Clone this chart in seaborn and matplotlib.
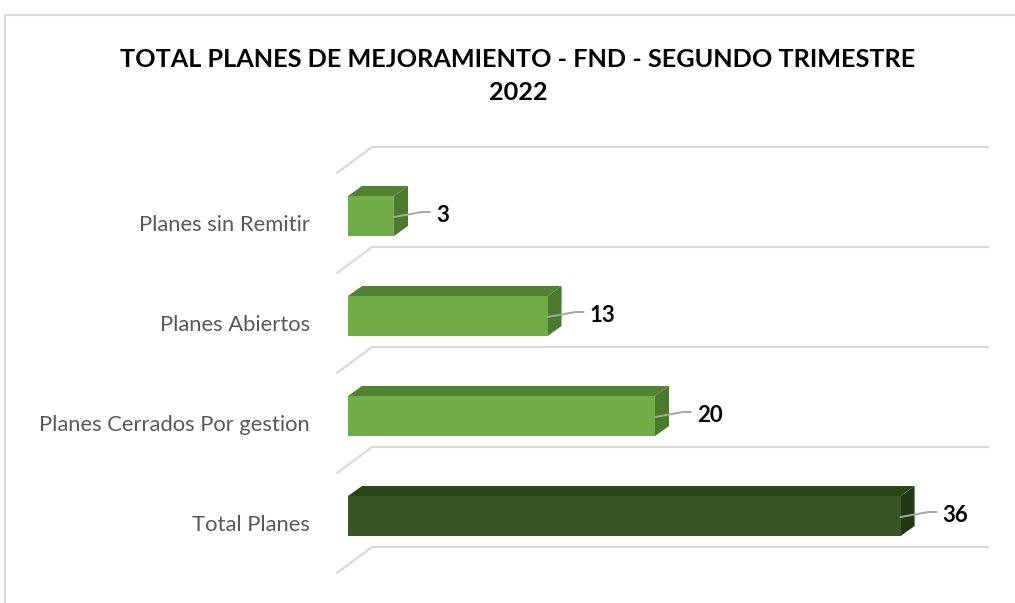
import matplotlib
matplotlib.use("Agg")
import matplotlib.pyplot as plt
import seaborn as sns
import numpy as np
from matplotlib.patches import Polygon, Rectangle
from matplotlib.lines import Line2D

# ---------------------------------------------------------------------------
# Data
# ---------------------------------------------------------------------------
categories = ["Planes sin Remitir", "Planes Abiertos", "Planes Cerrados Por gestion", "Total Planes"]
values = [3, 13, 20, 36]
title = "TOTAL PLANES DE MEJORAMIENTO - FND - SEGUNDO TRIMESTRE\n2022"

front_colors = ["#70AD47", "#70AD47", "#70AD47", "#375623"]
top_colors = ["#548235", "#548235", "#548235", "#2B461B"]
side_colors = ["#4A7A2C", "#4A7A2C", "#4A7A2C", "#223915"]

# ---------------------------------------------------------------------------
# Layout (pixels)
# ---------------------------------------------------------------------------
W, H, DPI = 1015, 603, 100
X0_PX, X1_PX = 348, 988          # value 0 / right end of the plot area
PX_PER_UNIT = 15.35
TOP_PX, BOT_PX = 147, 547        # first / last gridline
DEPTH = (14, 10)                 # 3D offset of the bars, pixels
FONT = ["Lato", "DejaVu Sans"]

sns.set_theme(style="white")
plt.rcParams["font.family"] = FONT

fig = plt.figure(figsize=(W / DPI, H / DPI), dpi=DPI)
ax = fig.add_axes([X0_PX / W, 1 - BOT_PX / H, (X1_PX - X0_PX) / W, (BOT_PX - TOP_PX) / H])

sns.barplot(x=values, y=categories, hue=categories, palette=front_colors,
            orient="h", width=0.4, legend=False, ax=ax, saturation=1, zorder=3,
            linewidth=0)

ax.set_xlim(0, (X1_PX - X0_PX) / PX_PER_UNIT)
ax.set_ylim(3.31, -0.69)
ax.set_xticks([])
ax.set_yticks([])
ax.set_xlabel("")
ax.set_ylabel("")
for s in ax.spines.values():
    s.set_visible(False)

fig.canvas.draw()
to_data = ax.transData.inverted()


def px_to_data(px, py):
    # px, py measured from top-left of the image
    return to_data.transform((px, H - py))


# gridlines with the perspective floor edge on the left
grid_c = "#D9D9D9"
for k in range(5):
    gy = TOP_PX + 100 * k
    a = px_to_data(372, gy)
    b = px_to_data(X1_PX, gy)
    c = px_to_data(337, gy + 26)
    ax.add_line(Line2D([c[0], a[0], b[0]], [c[1], a[1], b[1]], color=grid_c,
                       lw=1.6, clip_on=False, zorder=1))

# 3D faces of the bars
for i, p in enumerate(ax.patches):
    x0, x1 = p.get_x(), p.get_x() + p.get_width()
    ya, yb = p.get_y(), p.get_y() + p.get_height()
    ytop, ybot = min(ya, yb), max(ya, yb)
    disp = ax.transData.transform([(x0, ytop), (x1, ytop), (x1, ybot)])
    dx, dy = DEPTH
    ftl, ftr, fbr = disp
    top = [ftl, ftr, ftr + (dx, dy), ftl + (dx, dy)]
    side = [ftr, fbr, fbr + (dx, dy), ftr + (dx, dy)]
    ax.add_patch(Polygon(to_data.transform(top), closed=True, fc=top_colors[i],
                         ec="none", zorder=2, clip_on=False))
    ax.add_patch(Polygon(to_data.transform(side), closed=True, fc=side_colors[i],
                         ec="none", zorder=2, clip_on=False))

    # value label with leader line
    yc = (ytop + ybot) / 2
    cd = ax.transData.transform((x1, yc))
    pts = [cd + (0, -1), cd + (28, 4), cd + (36, 4)]
    pts = to_data.transform(pts)
    ax.add_line(Line2D(pts[:, 0], pts[:, 1], color="#A6A6A6", lw=1.4,
                       clip_on=False, zorder=4))
    tx = to_data.transform(cd + (42, 1))
    ax.text(tx[0], tx[1], str(values[i]), fontsize=16, fontweight="bold",
            color="black", ha="left", va="center", zorder=5)

# category labels
for i, cat in enumerate(categories):
    lx, ly = px_to_data(310, 216 + 100 * i + 9)
    ax.text(lx, ly, cat, fontsize=15.8, color="#595959", ha="right",
            va="center", clip_on=False)

# title
fig.text(518 / W, 1 - 76 / H, title, ha="center", va="center", fontsize=18.2,
         fontweight="bold", color="black", linespacing=1.52)

# chart frame
fig.patches.append(Rectangle((5 / W, -0.2), 1.2, 1.2 - 15 / H, transform=fig.transFigure,
                             fill=False, ec="#D9D9D9", lw=1.5, zorder=0))

fig.savefig("out.png", dpi=DPI)
